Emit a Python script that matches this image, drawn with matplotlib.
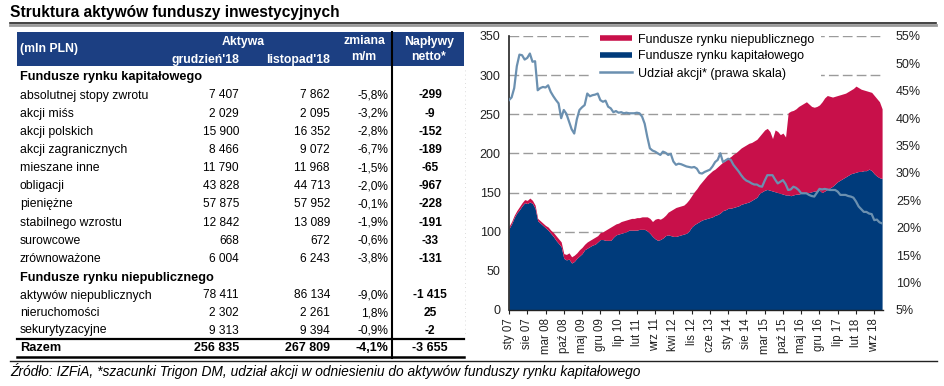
import matplotlib
matplotlib.use("Agg")
import matplotlib.pyplot as plt
import numpy as np
from matplotlib.lines import Line2D
from matplotlib.patches import Rectangle

plt.rcParams.update({
    "font.family": ["Liberation Sans", "DejaVu Sans"],
    "font.size": 8,
})

# ---------------- table data ----------------
kap_names = ["absolutnej stopy zwrotu", "akcji miśs", "akcji polskich", "akcji zagranicznych",
             "mieszane inne", "obligacji", "pieniężne", "stabilnego wzrostu", "surowcowe",
             "zrównoważone"]
kap_gru = [7407, 2029, 15900, 8466, 11790, 43828, 57875, 12842, 668, 6004]
kap_lis = [7862, 2095, 16352, 9072, 11968, 44713, 57952, 13089, 672, 6243]
kap_zm = [-5.8, -3.2, -2.8, -6.7, -1.5, -2.0, -0.1, -1.9, -0.6, -3.8]
kap_nap = [-299, -9, -152, -189, -65, -967, -228, -191, -33, -131]

niep_names = ["aktywów niepublicznych", "nieruchomości", "sekurytyzacyjne"]
niep_gru = [78411, 2302, 9313]
niep_lis = [86134, 2261, 9394]
niep_zm = [-9.0, 1.8, -0.9]
niep_nap = [-1415, 25, -2]

razem = ["Razem", 256835, 267809, -4.1, -3655]

# ---------------- chart data (mld PLN, monthly sty 07 .. gru 18) ----------------
kapitalowe = [
    104, 110, 118, 124, 128, 133, 137, 136, 138, 136, 130, 114,
    111, 108, 105, 102, 98, 94, 89, 85, 81, 66, 64, 65,
    60, 62, 66, 69, 72, 77, 79, 81, 83, 84, 87, 90,
    90, 89, 89, 89, 93, 96, 97, 98, 99, 100, 102, 102,
    102, 102, 103, 103, 103, 101, 98, 94, 91, 89, 90, 92,
    95, 96, 95, 94, 94, 95, 96, 97, 98, 101, 106, 109,
    111, 113, 115, 116, 117, 118, 119, 121, 122, 124, 127, 128,
    130, 130, 131, 132, 133, 135, 136, 137, 138, 140, 142, 144,
    149, 151, 153, 154, 153, 152, 151, 150, 149, 148, 147, 147,
    146, 147, 148, 148, 149, 149, 150, 150, 151, 152, 152, 153,
    150, 152, 154, 156, 158, 161, 164, 166, 168, 170, 172, 174,
    175, 176, 177, 177, 178, 178, 180, 178, 174, 171, 169, 168,
]
razem_fundusze = [
    107, 113, 121, 127, 132, 137, 141, 140, 143, 140, 134, 117,
    114, 111, 108, 106, 102, 99, 95, 91, 87, 72, 71, 73,
    68, 70, 73, 77, 80, 84, 87, 89, 91, 93, 95, 99,
    100, 102, 104, 106, 108, 110, 111, 113, 114, 115, 116, 117,
    117, 118, 118, 119, 119, 119, 117, 113, 116, 117, 116, 118,
    121, 125, 127, 129, 131, 132, 133, 134, 137, 141, 146, 151,
    155, 160, 164, 168, 172, 175, 178, 180, 183, 186, 189, 191,
    194, 196, 199, 201, 204, 207, 209, 211, 213, 214, 216, 218,
    222, 226, 230, 232, 228, 219, 230, 228, 224, 226, 221, 252,
    254, 255, 257, 260, 262, 264, 266, 263, 260, 259, 260, 262,
    266, 271, 274, 273, 272, 273, 274, 275, 276, 277, 279, 281,
    283, 286, 284, 282, 281, 280, 279, 278, 274, 270, 266, 257,
]
udzial_akcji = [
    43.3, 43.8, 45.5, 49.5, 51.6, 51.5, 50.7, 51.0, 51.8, 50.3, 50.4, 45.1,
    45.5, 45.7, 45.6, 46.0, 44.8, 44.0, 43.3, 42.7, 40.0, 41.5, 40.8, 39.4,
    38.0, 37.2, 39.8, 41.5, 42.0, 42.4, 44.5, 44.0, 44.2, 44.3, 44.5, 43.3,
    43.0, 43.2, 42.1, 41.8, 41.1, 41.3, 41.0, 41.1, 40.9, 41.0, 40.9, 40.9,
    40.9, 41.0, 40.9, 40.3, 39.0, 36.6, 34.5, 34.1, 33.9, 33.6, 33.3, 33.9,
    33.7, 33.3, 33.5, 32.1, 31.5, 31.7, 31.6, 31.4, 31.2, 31.1, 31.0, 31.1,
    30.8, 30.0, 29.9, 30.2, 30.4, 30.6, 31.2, 32.0, 32.4, 33.6, 32.0, 32.3,
    32.6, 32.4, 31.5, 30.9, 30.3, 29.6, 29.0, 28.6, 28.4, 28.1, 27.9, 27.9,
    27.6, 27.5, 28.6, 29.6, 29.6, 29.6, 28.8, 28.1, 28.4, 28.7, 28.0, 26.9,
    27.0, 27.5, 27.3, 26.9, 26.3, 26.3, 26.3, 26.0, 25.8, 25.7, 26.4, 27.1,
    27.0, 27.1, 27.0, 26.9, 26.9, 26.9, 26.6, 26.0, 26.0, 26.0, 25.8, 25.7,
    25.5, 24.8, 23.9, 23.4, 22.9, 22.9, 22.6, 22.5, 21.4, 21.5, 21.0, 20.8,
]
x_labels = ["sty 07", "sie 07", "mar 08", "paź 08", "maj 09", "gru 09", "lip 10", "lut 11",
            "wrz 11", "kwi 12", "lis 12", "cze 13", "sty 14", "sie 14", "mar 15", "paź 15",
            "maj 16", "gru 16", "lip 17", "lut 18", "wrz 18"]
legend_labels = ["Fundusze rynku niepublicznego", "Fundusze rynku kapitałowego",
                 "Udział akcji* (prawa skala)"]

RED = "#c8104a"
BLUE = "#003b7b"
STEEL = "#6b90b0"
HEAD = "#1c3f82"
NARROW = ["Liberation Sans Narrow", "Liberation Sans", "DejaVu Sans"]

W, H = 945, 386
fig = plt.figure(figsize=(W / 100, H / 100), dpi=100)


def fx(px):
    return px / W


def fy(py):
    return 1 - py / H


def hline(x0, x1, y, lw=1.5, color="black"):
    fig.add_artist(Line2D([fx(x0), fx(x1)], [fy(y), fy(y)], transform=fig.transFigure,
                          color=color, lw=lw))


def num(v):
    s = f"{abs(v):,}".replace(",", " ")
    return ("-" if v < 0 else "") + s


def pct(v):
    return f"{v:.1f}%".replace(".", ",")


# title
fig.text(fx(10), fy(13), "Struktura aktywów funduszy inwestycyjnych", fontsize=11.2,
         fontweight="bold", va="center", ha="left")
hline(10, 936, 24.5, lw=2.0, color="#9a9a9a")
hline(10, 936, 23.2, lw=1.2, color="#222222")

# header
fig.add_artist(Rectangle((fx(17), fy(66)), fx(464) - fx(17), fy(31.5) - fy(66),
                         transform=fig.transFigure, color=HEAD, lw=0))
hkw = dict(color="white", fontweight="bold", fontsize=8.8, va="center")
fig.text(fx(20), fy(49), "(mln PLN)", ha="left", **hkw)
fig.text(fx(243), fy(41.5), "Aktywa", ha="center", **hkw)
fig.text(fx(239), fy(60), "grudzień'18", ha="right", **hkw)
fig.text(fx(330), fy(60), "listopad'18", ha="right", **hkw)
fig.text(fx(364), fy(41.5), "zmiana", ha="center", **hkw)
fig.text(fx(364), fy(57), "m/m", ha="center", **hkw)
fig.text(fx(429), fy(41.5), "Napływy", ha="center", **hkw)
fig.text(fx(429), fy(57), "netto*", ha="center", **hkw)


# rows
def row(y, name, gru, lis, zm, nap, bold=False):
    w = "bold" if bold else "normal"
    fs = 9 if bold else 8.6
    if bold:
        fig.text(fx(20), fy(y), name, ha="left", va="center", fontweight=w, fontsize=9.2)
    else:
        fig.text(fx(20), fy(y), name, ha="left", va="center", family=NARROW, fontsize=8.8)
    fig.text(fx(239), fy(y), num(gru), ha="right", va="center", fontweight=w, fontsize=fs)
    fig.text(fx(330), fy(y), num(lis), ha="right", va="center", fontweight=w, fontsize=fs)
    fig.text(fx(388), fy(y), pct(zm), ha="right", va="center", fontweight=w, fontsize=fs)
    fig.text(fx(430), fy(y), num(nap), ha="center", va="center", fontweight="bold", fontsize=fs)


fig.text(fx(20), fy(77), "Fundusze rynku kapitałowego", fontweight="bold", va="center",
         fontsize=9.2)
y = 95.5
for i in range(len(kap_names)):
    row(y, kap_names[i], kap_gru[i], kap_lis[i], kap_zm[i], kap_nap[i])
    y += 18.15
fig.text(fx(20), fy(277.5), "Fundusze rynku niepublicznego", fontweight="bold", va="center",
         fontsize=9.2)
y = 295.5
for i in range(len(niep_names)):
    row(y, niep_names[i], niep_gru[i], niep_lis[i], niep_zm[i], niep_nap[i])
    y += 17.5
hline(17, 464, 338.5, lw=1.6)
row(348, *razem, bold=True)
hline(17, 464, 357.3, lw=1.8)
hline(10, 937, 361, lw=1.0, color="#222222")
fig.add_artist(Line2D([fx(392), fx(392)], [fy(31.5), fy(357.5)], transform=fig.transFigure,
                      color="black", lw=1.5))
fig.add_artist(Line2D([fx(465), fx(465)], [fy(70), fy(336)], transform=fig.transFigure,
                      color="#d0d0d0", lw=0.6, ls=(0, (1, 4))))

fig.text(fx(10), fy(371), "Źródło: IZFiA, *szacunki Trigon DM, udział akcji w odniesieniu "
         "do aktywów funduszy rynku kapitałowego", fontsize=9.9, style="italic", va="center")

# ---------------- chart ----------------
ax = fig.add_axes([fx(509), fy(310), fx(883.4) - fx(509), fy(36) - fy(310)])
months = np.arange(len(kapitalowe))
ax.fill_between(months, 0, kapitalowe, color=BLUE, lw=0, zorder=2)
ax.fill_between(months, kapitalowe, razem_fundusze, color=RED, lw=0, zorder=2)
ax.set_xlim(0, 143.5)
ax.set_ylim(0, 350)
ax.set_yticks(np.arange(0, 351, 50))
ax.grid(axis="y", color="#9b9b9b", ls=(0, (7, 3)), lw=1.0)
ax.set_axisbelow(True)
ax.set_xticks(np.arange(0, 7 * len(x_labels), 7))
ax.set_xticklabels(x_labels, rotation=90)
ax.tick_params(axis="x", length=3, width=0.8, pad=3, colors="#222222", labelsize=8.3)
ax.tick_params(axis="y", length=0, pad=6, colors="#222222", labelsize=9)
for s in ["top", "right"]:
    ax.spines[s].set_visible(False)
ax.spines["left"].set_color("#222222")
ax.spines["left"].set_linewidth(1.2)
ax.spines["bottom"].set_color("#222222")
ax.spines["bottom"].set_linewidth(1.0)

ax2 = ax.twinx()
ax2.plot(months, udzial_akcji, color=STEEL, lw=1.6, zorder=3)
ax2.set_ylim(5, 55)
ax2.set_yticks(np.arange(5, 56, 5))
ax2.set_yticklabels([f"{v}%" for v in range(5, 56, 5)])
ax2.tick_params(axis="y", length=0, pad=9, colors="#222222", labelsize=9)
for s in ax2.spines.values():
    s.set_visible(False)

handles = [Line2D([], [], color=RED, lw=4, solid_capstyle="butt"),
           Line2D([], [], color=BLUE, lw=4, solid_capstyle="butt"),
           Line2D([], [], color=STEEL, lw=1.8)]
ax.legend(handles, legend_labels, loc="upper left", bbox_to_anchor=(fx(592), fy(26)),
          bbox_transform=fig.transFigure, frameon=True, fancybox=False, edgecolor="none",
          facecolor="white", framealpha=1, handlelength=2.6, handletextpad=0.45,
          labelspacing=0.4, borderpad=0.6, borderaxespad=0, fontsize=9)

fig.savefig("out.png", dpi=100)
